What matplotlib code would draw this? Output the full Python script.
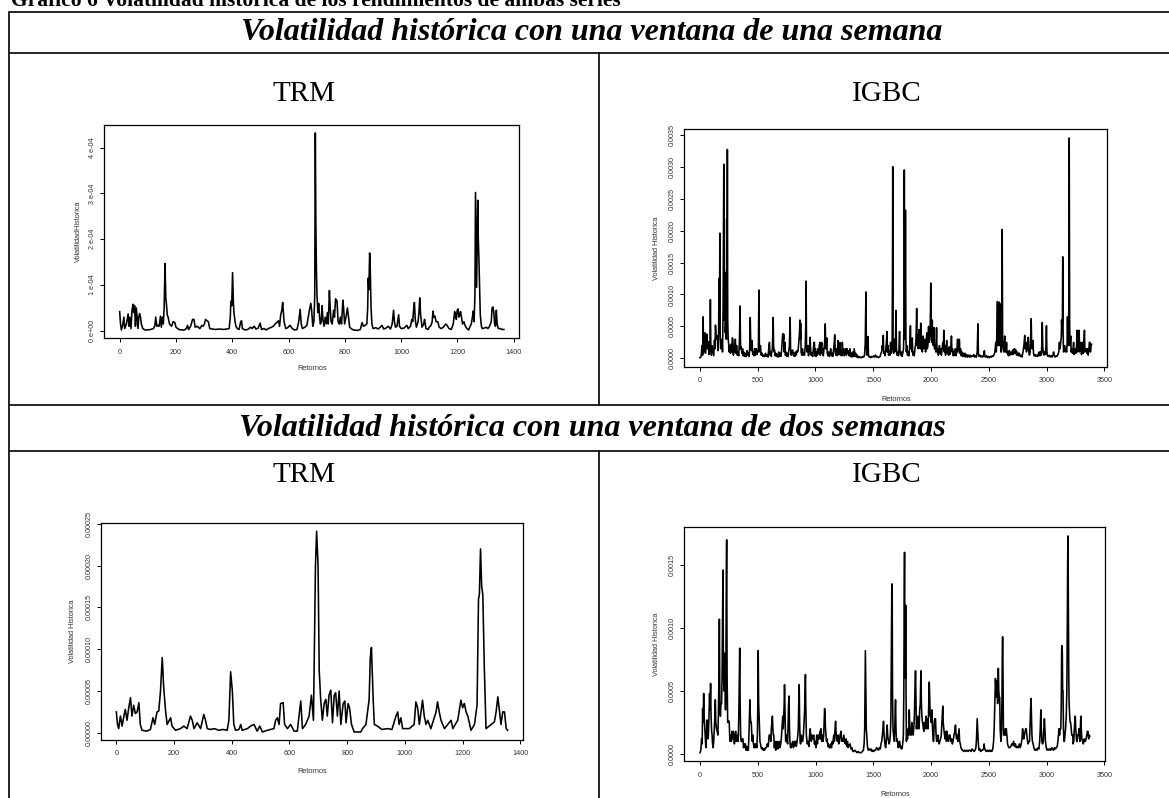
import numpy as np
import matplotlib.pyplot as plt
from matplotlib.ticker import FixedLocator, FixedFormatter

# Series (x = return index, y in units of SCALE)
SCALE_4 = 1e-4
SCALE_5 = 1e-5

# TRM, one-week window (x1e-4)
trm_1w = [(0, 0.42), (3, 0.15), (6, 0.02), (10, 0.1), (15, 0.3), (18, 0.05), (24, 0.15), (30, 0.37), (33, 0.1),
          (36, 0.3), (40, 0.05), (44, 0.45), (47, 0.58), (50, 0.4), (53, 0.55), (56, 0.1), (59, 0.5), (62, 0.3),
          (65, 0.05), (68, 0.3), (71, 0.38), (74, 0.3), (77, 0.15), (82, 0.05), (90, 0.02), (100, 0.02), (110, 0.03),
          (120, 0.05), (125, 0.12), (128, 0.3), (132, 0.1), (136, 0.12), (140, 0.1), (145, 0.32), (148, 0.08),
          (152, 0.3), (155, 0.15), (158, 0.5), (161, 1.47), (164, 0.7), (166, 0.6), (169, 0.35), (172, 0.3),
          (177, 0.15), (184, 0.1), (190, 0.2), (196, 0.18), (200, 0.08), (210, 0.03), (220, 0.02), (230, 0.02),
          (237, 0.05), (241, 0.12), (245, 0.03), (252, 0.1), (259, 0.25), (264, 0.25), (268, 0.08), (275, 0.1),
          (285, 0.05), (292, 0.12), (297, 0.1), (301, 0.15), (305, 0.25), (310, 0.22), (315, 0.2), (320, 0.05),
          (330, 0.04), (340, 0.03), (355, 0.04), (370, 0.03), (380, 0.04), (389, 0.05), (393, 0.3), (395, 0.65),
          (398, 0.55), (401, 1.27), (404, 0.6), (406, 0.4), (410, 0.2), (413, 0.1), (418, 0.05), (424, 0.03),
          (430, 0.2), (433, 0.22), (436, 0.05), (445, 0.02), (455, 0.03), (465, 0.08), (470, 0.05), (478, 0.1),
          (484, 0.04), (492, 0.06), (499, 0.17), (504, 0.03), (513, 0.05), (520, 0.02), (528, 0.05), (536, 0.07),
          (546, 0.1), (552, 0.15), (558, 0.18), (564, 0.22), (568, 0.1), (572, 0.35), (576, 0.45), (579, 0.62),
          (582, 0.35), (584, 0.2), (590, 0.05), (597, 0.07), (605, 0.12), (612, 0.06), (620, 0.02), (630, 0.03),
          (636, 0.2), (641, 0.47), (645, 0.15), (649, 0.05), (658, 0.08), (665, 0.12), (670, 0.3), (674, 0.45),
          (679, 0.6), (682, 0.45), (686, 0.1), (690, 0.2), (693, 0.8), (695, 4.32), (697, 2.3), (699, 1.3),
          (701, 0.75), (704, 0.4), (707, 0.6), (710, 0.3), (713, 0.15), (716, 0.2), (719, 0.55), (722, 0.25),
          (726, 0.1), (730, 0.3), (734, 0.15), (738, 0.4), (741, 0.15), (745, 0.88), (748, 0.5), (751, 0.2),
          (755, 0.15), (760, 0.45), (763, 0.3), (767, 0.7), (772, 0.65), (776, 0.2), (780, 0.15), (784, 0.3),
          (788, 0.15), (793, 0.67), (796, 0.45), (799, 0.15), (804, 0.3), (809, 0.5), (813, 0.3), (817, 0.08),
          (822, 0.05), (830, 0.02), (845, 0.01), (855, 0.03), (861, 0.18), (866, 0.1), (872, 0.12), (878, 0.15),
          (881, 0.5), (883, 1.15), (885, 0.9), (888, 1.7), (890, 1.4), (893, 0.5), (896, 0.15), (900, 0.05),
          (910, 0.07), (918, 0.04), (926, 0.08), (932, 0.12), (938, 0.04), (946, 0.06), (954, 0.1), (962, 0.04),
          (968, 0.15), (973, 0.45), (976, 0.2), (980, 0.08), (985, 0.1), (991, 0.35), (994, 0.1), (1000, 0.05),
          (1010, 0.06), (1020, 0.12), (1025, 0.05), (1033, 0.1), (1038, 0.25), (1041, 0.2), (1044, 0.45),
          (1047, 0.62), (1050, 0.25), (1054, 0.08), (1060, 0.2), (1063, 0.4), (1066, 0.72), (1069, 0.35),
          (1074, 0.08), (1080, 0.15), (1083, 0.25), (1088, 0.05), (1095, 0.03), (1100, 0.08), (1106, 0.12),
          (1110, 0.2), (1113, 0.43), (1116, 0.3), (1120, 0.32), (1124, 0.2), (1130, 0.2), (1135, 0.08),
          (1142, 0.05), (1150, 0.08), (1158, 0.15), (1163, 0.12), (1170, 0.05), (1178, 0.03), (1185, 0.15),
          (1190, 0.42), (1193, 0.3), (1196, 0.25), (1199, 0.45), (1202, 0.48), (1205, 0.3), (1208, 0.35),
          (1211, 0.42), (1214, 0.3), (1218, 0.15), (1223, 0.2), (1228, 0.1), (1234, 0.05), (1240, 0.02),
          (1245, 0.1), (1249, 0.15), (1253, 0.3), (1256, 0.43), (1259, 0.2), (1262, 0.8), (1264, 3.02),
          (1266, 2.0), (1268, 0.95), (1270, 2.0), (1272, 2.85), (1274, 2.0), (1276, 1.6), (1279, 0.8),
          (1281, 0.35), (1285, 0.1), (1288, 0.05), (1295, 0.06), (1302, 0.08), (1308, 0.05), (1314, 0.1),
          (1317, 0.15), (1320, 0.2), (1323, 0.5), (1326, 0.52), (1329, 0.4), (1332, 0.15), (1335, 0.1),
          (1338, 0.45), (1341, 0.15), (1345, 0.05), (1352, 0.05), (1358, 0.03), (1365, 0.03)]

# TRM, two-week window (x1e-5)
trm_2w = [(0, 2.5), (4, 1.0), (8, 0.5), (14, 2.0), (20, 0.8), (25, 1.8), (31, 2.8), (37, 1.5), (43, 3.0),
          (49, 4.2), (54, 2.0), (60, 3.3), (66, 2.3), (72, 2.5), (78, 3.6), (83, 1.0), (89, 0.3), (106, 0.2),
          (118, 0.4), (127, 1.8), (133, 1.0), (141, 2.5), (147, 2.6), (153, 5.0), (159, 9.0), (164, 5.5),
          (170, 2.8), (176, 1.0), (188, 1.8), (193, 0.8), (205, 0.3), (222, 0.5), (234, 0.8), (245, 0.5),
          (257, 2.0), (263, 1.5), (269, 0.5), (280, 1.2), (292, 0.5), (303, 2.2), (309, 1.5), (315, 0.5),
          (326, 0.4), (340, 0.5), (355, 0.3), (370, 0.4), (384, 0.3), (390, 1.5), (396, 7.3), (402, 5.0),
          (407, 1.0), (413, 0.3), (425, 0.4), (431, 1.0), (436, 0.3), (454, 0.5), (465, 0.8), (477, 1.0),
          (488, 0.2), (497, 0.8), (506, 0.1), (523, 0.3), (546, 0.5), (552, 1.5), (558, 1.8), (564, 1.0),
          (569, 3.5), (578, 3.6), (583, 1.0), (593, 0.5), (604, 1.0), (616, 0.2), (627, 0.2), (639, 3.8),
          (645, 0.5), (656, 1.0), (668, 2.0), (676, 4.5), (683, 1.5), (690, 20.0), (694, 24.1), (699, 20.0),
          (703, 7.5), (708, 4.0), (714, 1.5), (720, 3.5), (726, 4.0), (731, 2.0), (737, 4.5), (743, 5.1),
          (749, 1.2), (755, 4.5), (760, 4.8), (766, 2.0), (772, 5.0), (778, 1.0), (786, 3.5), (792, 3.8),
          (796, 1.2), (803, 3.5), (808, 3.0), (815, 1.0), (824, 0.1), (847, 0.1), (853, 0.5), (865, 1.0),
          (876, 4.0), (880, 9.0), (884, 10.2), (890, 4.0), (894, 1.0), (905, 0.8), (920, 0.4), (940, 0.5),
          (955, 0.4), (969, 2.0), (975, 2.5), (980, 1.0), (986, 1.8), (992, 0.5), (1015, 0.5), (1032, 1.0),
          (1038, 3.7), (1044, 3.0), (1050, 1.0), (1061, 3.9), (1067, 2.0), (1073, 1.0), (1079, 1.5),
          (1090, 0.5), (1108, 2.5), (1113, 3.7), (1119, 2.5), (1125, 1.5), (1137, 0.5), (1160, 1.5),
          (1166, 0.5), (1183, 1.5), (1194, 3.9), (1200, 3.0), (1206, 3.5), (1212, 2.5), (1218, 2.0),
          (1229, 0.3), (1241, 1.0), (1250, 3.3), (1255, 16.0), (1258, 16.5), (1262, 22.0), (1266, 17.5),
          (1270, 16.5), (1275, 8.0), (1281, 0.5), (1299, 1.0), (1310, 1.3), (1316, 2.5), (1322, 4.3),
          (1328, 2.5), (1333, 1.0), (1339, 2.5), (1345, 2.5), (1351, 0.5), (1356, 0.3)]

# IGBC, one-week window (x1e-4)
igbc_1w = [(0, 0.1), (10, 0.2), (19, 2.0), (24, 0.5), (28, 6.5), (32, 1.0), (38, 3.5), (44, 4.0), (48, 0.8),
           (54, 2.5), (60, 3.8), (66, 1.5), (72, 2.6), (78, 0.6), (82, 2.5), (87, 1.0), (91, 9.2), (95, 1.5),
           (100, 0.5), (106, 2.0), (113, 1.2), (120, 0.4), (126, 2.8), (131, 1.5), (135, 5.2), (140, 3.5),
           (146, 3.0), (151, 3.5), (156, 1.2), (162, 4.0), (166, 12.5), (169, 5.0), (173, 19.6), (176, 3.0),
           (180, 1.5), (185, 2.5), (191, 3.0), (196, 1.0), (201, 8.0), (207, 30.4), (211, 6.0), (216, 13.5),
           (220, 4.0), (225, 6.5), (229, 3.0), (232, 21.8), (235, 8.0), (238, 32.7), (241, 6.0), (245, 3.0),
           (248, 2.5), (253, 1.0), (258, 2.0), (264, 0.8), (270, 2.2), (276, 1.0), (281, 3.2), (285, 3.0),
           (290, 0.5), (296, 2.0), (301, 1.0), (307, 3.0), (312, 0.8), (318, 2.0), (324, 0.5), (330, 1.0),
           (336, 0.4), (342, 2.5), (348, 8.2), (352, 1.5), (357, 1.8), (364, 0.8), (370, 1.5), (375, 0.4),
           (380, 1.0), (387, 0.3), (393, 0.8), (400, 0.3), (408, 1.2), (414, 0.5), (420, 0.8), (426, 0.3),
           (431, 1.5), (436, 6.4), (440, 2.5), (445, 1.2), (452, 2.8), (457, 0.6), (463, 1.0), (469, 0.4),
           (475, 1.5), (481, 0.5), (486, 1.0), (489, 1.5), (494, 0.6), (500, 1.2), (506, 1.0), (511, 10.7),
           (515, 2.0), (520, 1.0), (524, 2.0), (530, 0.5), (538, 0.8), (545, 0.3), (552, 0.5), (560, 0.3),
           (568, 0.8), (575, 0.3), (582, 0.6), (590, 0.2), (596, 1.5), (602, 2.5), (607, 0.5), (612, 1.0),
           (618, 0.3), (622, 1.0), (627, 1.5), (630, 3.0), (634, 6.4), (638, 2.0), (642, 1.0), (646, 1.3),
           (652, 0.4), (658, 0.8), (664, 0.3), (670, 0.6), (676, 0.2), (682, 1.0), (688, 0.3), (694, 0.8),
           (700, 0.3), (706, 1.0), (712, 2.5), (716, 3.8), (720, 3.8), (723, 3.0), (725, 3.8), (729, 1.0),
           (735, 2.5), (740, 0.5), (746, 1.0), (752, 0.3), (758, 0.8), (764, 0.3), (770, 1.2), (775, 2.0),
           (778, 4.0), (781, 6.4), (785, 1.5), (790, 0.5), (796, 1.0), (803, 1.3), (810, 0.4), (816, 0.8),
           (822, 0.3), (828, 1.0), (834, 0.5), (840, 1.2), (846, 1.0), (850, 1.3), (856, 2.5), (862, 4.0),
           (866, 6.0), (870, 3.0), (872, 5.5), (876, 1.0), (882, 0.5), (888, 1.5), (894, 0.5), (900, 0.8),
           (906, 0.5), (912, 2.0), (916, 5.0), (919, 12.1), (923, 2.0), (928, 1.0), (935, 2.0), (940, 0.4),
           (946, 1.0), (950, 2.0), (954, 3.3), (958, 1.5), (963, 0.5), (970, 0.8), (976, 0.3), (982, 1.5),
           (988, 2.5), (991, 2.5), (995, 0.4), (1000, 1.5), (1006, 0.3), (1012, 1.0), (1018, 0.5), (1023, 1.5),
           (1028, 0.8), (1033, 2.0), (1038, 2.5), (1042, 0.5), (1048, 1.0), (1054, 2.5), (1058, 0.8),
           (1063, 1.5), (1068, 0.4), (1074, 1.5), (1080, 2.5), (1085, 5.4), (1089, 1.5), (1094, 2.0),
           (1098, 3.2), (1102, 0.8), (1108, 0.4), (1114, 1.0), (1120, 0.3), (1126, 0.8), (1132, 1.5),
           (1138, 0.4), (1144, 0.8), (1150, 0.3), (1155, 1.0), (1161, 2.0), (1167, 3.7), (1171, 1.0),
           (1177, 0.5), (1183, 1.5), (1189, 0.4), (1195, 2.8), (1200, 1.0), (1205, 0.6), (1211, 2.5),
           (1216, 0.5), (1222, 1.2), (1228, 0.4), (1233, 2.5), (1238, 0.8), (1244, 1.5), (1250, 0.4),
           (1256, 1.0), (1262, 1.5), (1268, 0.5), (1274, 1.5), (1280, 0.8), (1286, 1.2), (1292, 0.4),
           (1298, 1.5), (1304, 0.3), (1310, 0.8), (1316, 0.2), (1322, 1.0), (1328, 0.3), (1336, 1.5),
           (1342, 0.3), (1348, 0.8), (1355, 0.2), (1362, 0.5), (1370, 0.1), (1378, 0.3), (1386, 0.1),
           (1394, 0.2), (1402, 0.1), (1410, 0.3), (1418, 0.2), (1425, 0.5), (1431, 2.5), (1434, 6.0),
           (1437, 10.4), (1441, 2.0), (1446, 0.5), (1451, 1.5), (1455, 3.4), (1459, 0.5), (1465, 0.2),
           (1472, 0.3), (1480, 0.1), (1488, 0.3), (1496, 0.2), (1504, 0.4), (1512, 0.2), (1520, 0.5),
           (1528, 0.2), (1536, 0.3), (1544, 0.1), (1552, 0.2), (1560, 0.3), (1567, 0.8), (1573, 1.0),
           (1578, 2.0), (1583, 1.5), (1587, 3.6), (1591, 0.8), (1597, 1.0), (1603, 0.4), (1609, 1.5),
           (1614, 2.5), (1619, 4.2), (1623, 1.0), (1628, 2.0), (1633, 0.5), (1639, 1.2), (1645, 0.5),
           (1650, 2.5), (1655, 0.8), (1660, 1.0), (1664, 3.0), (1667, 15.0), (1669, 30.0), (1672, 3.0),
           (1677, 0.8), (1681, 3.0), (1686, 1.0), (1691, 1.5), (1694, 4.0), (1697, 7.5), (1701, 1.5),
           (1706, 0.5), (1712, 1.0), (1718, 0.4), (1723, 1.5), (1728, 4.2), (1732, 1.0), (1738, 0.5),
           (1744, 1.0), (1750, 0.3), (1756, 0.8), (1762, 1.5), (1766, 5.0), (1769, 29.5), (1773, 3.0),
           (1776, 8.0), (1779, 23.2), (1783, 3.0), (1787, 1.0), (1791, 2.0), (1796, 0.5), (1802, 1.0),
           (1808, 0.4), (1814, 1.5), (1818, 3.0), (1822, 5.1), (1826, 1.5), (1830, 2.5), (1835, 1.0),
           (1838, 3.2), (1843, 0.5), (1849, 1.0), (1855, 0.4), (1861, 1.5), (1866, 2.0), (1870, 3.0),
           (1873, 5.0), (1876, 7.8), (1880, 2.0), (1885, 3.5), (1890, 1.5), (1895, 4.5), (1899, 2.0),
           (1904, 3.0), (1908, 1.5), (1911, 5.5), (1915, 1.5), (1920, 2.5), (1925, 1.0), (1932, 3.5),
           (1937, 1.5), (1942, 2.5), (1948, 3.0), (1953, 1.0), (1958, 2.5), (1964, 4.0), (1968, 1.5),
           (1973, 2.0), (1979, 5.0), (1983, 2.5), (1988, 3.0), (1992, 4.5), (1995, 7.0), (1998, 11.8),
           (2002, 4.0), (2006, 2.5), (2011, 6.0), (2015, 3.0), (2020, 2.0), (2026, 4.8), (2030, 1.5),
           (2036, 2.0), (2042, 1.0), (2048, 4.8), (2052, 1.0), (2058, 1.5), (2064, 0.5), (2073, 2.0),
           (2078, 0.8), (2084, 1.5), (2090, 0.5), (2096, 1.5), (2102, 2.5), (2107, 1.5), (2111, 4.4),
           (2115, 1.0), (2120, 2.0), (2126, 0.5), (2131, 1.5), (2136, 2.8), (2140, 0.8), (2146, 1.5),
           (2152, 0.5), (2158, 1.8), (2163, 0.6), (2168, 1.2), (2173, 2.0), (2177, 3.5), (2181, 1.0),
           (2187, 1.5), (2193, 0.4), (2199, 1.0), (2205, 0.5), (2211, 1.5), (2217, 0.4), (2224, 1.2),
           (2230, 3.0), (2234, 1.0), (2240, 2.0), (2246, 3.0), (2250, 0.8), (2256, 1.5), (2262, 0.4),
           (2268, 1.0), (2274, 0.3), (2280, 0.8), (2287, 0.3), (2294, 0.8), (2300, 0.2), (2308, 0.6),
           (2315, 0.2), (2322, 0.5), (2330, 0.2), (2338, 0.5), (2346, 0.2), (2354, 0.4), (2362, 0.3),
           (2370, 0.6), (2378, 0.2), (2386, 0.4), (2393, 0.2), (2400, 1.0), (2403, 3.0), (2406, 5.4),
           (2410, 0.8), (2416, 0.3), (2424, 0.5), (2432, 0.2), (2440, 0.4), (2448, 0.2), (2456, 0.5),
           (2462, 1.2), (2466, 0.3), (2474, 0.2), (2482, 0.4), (2490, 0.1), (2498, 0.3), (2506, 0.1),
           (2514, 0.3), (2522, 0.2), (2530, 0.4), (2538, 0.3), (2546, 0.6), (2553, 1.0), (2560, 2.5),
           (2565, 1.0), (2570, 4.0), (2575, 8.9), (2579, 2.0), (2584, 4.0), (2588, 2.0), (2591, 8.8),
           (2595, 3.0), (2600, 8.5), (2604, 1.0), (2608, 1.0), (2612, 3.0), (2616, 20.2), (2620, 3.0),
           (2625, 1.5), (2630, 1.0), (2638, 3.5), (2642, 1.0), (2648, 1.0), (2654, 2.5), (2658, 0.8),
           (2664, 1.0), (2670, 0.4), (2676, 1.2), (2682, 0.5), (2690, 1.0), (2698, 0.6), (2706, 1.3),
           (2712, 0.6), (2720, 1.5), (2726, 0.8), (2732, 1.4), (2740, 0.5), (2748, 1.0), (2756, 0.4),
           (2764, 0.8), (2772, 0.3), (2780, 0.5), (2788, 0.2), (2796, 1.0), (2804, 2.0), (2811, 3.6),
           (2815, 1.5), (2820, 2.5), (2826, 1.0), (2832, 1.5), (2836, 2.5), (2842, 3.3), (2846, 1.0),
           (2852, 0.5), (2858, 1.0), (2862, 3.0), (2867, 6.2), (2871, 2.0), (2876, 1.5), (2883, 2.8),
           (2887, 0.8), (2893, 0.4), (2900, 0.6), (2908, 0.3), (2916, 0.5), (2924, 0.3), (2930, 0.8),
           (2936, 1.0), (2942, 0.4), (2948, 1.0), (2954, 0.5), (2960, 2.5), (2963, 5.6), (2967, 2.0),
           (2972, 0.8), (2978, 0.5), (2984, 1.0), (2990, 0.6), (2995, 2.0), (2999, 5.1), (3003, 1.0),
           (3008, 0.4), (3016, 0.3), (3024, 0.5), (3032, 0.2), (3040, 0.4), (3048, 0.2), (3056, 0.6),
           (3061, 1.0), (3066, 0.4), (3074, 0.2), (3082, 0.4), (3090, 0.3), (3098, 0.6), (3106, 1.0),
           (3111, 2.5), (3115, 1.5), (3120, 2.0), (3125, 3.0), (3128, 3.5), (3130, 6.0), (3134, 4.0),
           (3137, 6.0), (3140, 15.9), (3143, 4.0), (3147, 1.0), (3152, 1.5), (3156, 2.0), (3162, 1.0),
           (3168, 1.5), (3174, 1.0), (3178, 2.5), (3181, 6.5), (3185, 2.0), (3190, 3.0), (3193, 10.0),
           (3196, 34.5), (3200, 5.0), (3204, 2.0), (3209, 3.5), (3213, 1.0), (3218, 1.5), (3224, 0.8),
           (3230, 1.5), (3234, 2.5), (3238, 0.6), (3244, 1.0), (3250, 1.5), (3255, 0.8), (3260, 2.0),
           (3265, 4.4), (3269, 1.0), (3274, 2.5), (3278, 3.5), (3282, 4.4), (3286, 1.0), (3292, 1.5),
           (3297, 2.5), (3302, 0.6), (3308, 1.2), (3313, 2.5), (3318, 0.8), (3323, 2.5), (3328, 4.4),
           (3332, 1.0), (3338, 1.5), (3344, 1.5), (3350, 0.8), (3355, 1.5), (3360, 0.5), (3366, 1.2),
           (3370, 2.5), (3375, 2.5), (3380, 1.0), (3385, 2.0), (3390, 2.2)]

# IGBC, two-week window (x1e-4)
igbc_2w = [(0, 0.1), (6, 0.3), (13, 1.2), (18, 0.8), (22, 3.6), (26, 2.5), (31, 4.8), (35, 3.0), (41, 2.0),
           (46, 1.2), (50, 0.5), (55, 1.5), (60, 2.7), (66, 1.2), (72, 1.5), (77, 3.0), (82, 4.8), (86, 3.5),
           (91, 5.6), (95, 3.0), (100, 1.8), (104, 1.5), (108, 0.8), (113, 0.5), (118, 1.0), (124, 2.2),
           (128, 3.0), (132, 4.3), (136, 2.5), (142, 2.0), (148, 1.8), (154, 1.5), (158, 3.0), (163, 6.0),
           (167, 10.7), (171, 4.0), (176, 3.0), (181, 4.0), (186, 4.0), (190, 6.0), (194, 10.0), (198, 14.6),
           (202, 7.0), (206, 5.0), (210, 6.0), (214, 8.0), (218, 5.0), (220, 3.5), (224, 8.0), (227, 14.0),
           (230, 17.0), (234, 6.0), (239, 2.5), (245, 2.6), (252, 2.6), (256, 1.5), (261, 1.0), (266, 1.5),
           (271, 1.0), (277, 1.8), (282, 1.2), (287, 1.8), (292, 1.5), (297, 0.8), (303, 1.5), (308, 1.8),
           (314, 1.0), (319, 1.2), (324, 1.5), (330, 1.0), (335, 3.0), (339, 6.0), (343, 8.4), (347, 4.0),
           (351, 1.5), (355, 1.0), (361, 1.0), (366, 1.2), (371, 1.2), (376, 0.5), (382, 0.8), (387, 0.5),
           (392, 0.8), (398, 0.3), (404, 0.6), (410, 0.3), (418, 0.3), (423, 1.5), (427, 3.0), (431, 4.3),
           (435, 3.0), (439, 2.5), (443, 2.5), (448, 1.5), (452, 1.0), (456, 1.5), (462, 0.8), (468, 0.5),
           (475, 0.8), (480, 0.5), (486, 0.8), (491, 0.5), (496, 1.5), (500, 4.0), (503, 8.2), (507, 4.0),
           (513, 2.5), (518, 1.0), (523, 0.8), (528, 0.5), (534, 0.4), (540, 0.5), (546, 0.3), (552, 0.4),
           (559, 0.3), (566, 0.5), (575, 0.5), (582, 0.8), (590, 0.6), (598, 1.5), (607, 1.5), (612, 1.0),
           (617, 2.0), (622, 2.6), (626, 3.0), (630, 2.0), (634, 1.5), (638, 1.5), (643, 0.5), (648, 1.0),
           (654, 0.3), (660, 0.5), (666, 1.0), (672, 0.4), (679, 0.8), (686, 1.0), (692, 0.5), (698, 0.8),
           (703, 1.2), (708, 2.0), (712, 2.5), (716, 3.0), (720, 2.0), (724, 3.0), (728, 4.0), (731, 5.5),
           (734, 4.0), (738, 2.0), (741, 1.0), (745, 1.0), (750, 1.5), (754, 1.0), (758, 0.8), (762, 2.5),
           (766, 4.0), (770, 4.6), (774, 2.0), (778, 1.0), (783, 0.5), (789, 0.5), (795, 0.8), (802, 1.0),
           (808, 0.5), (815, 0.7), (820, 1.0), (827, 1.0), (833, 0.6), (840, 1.0), (846, 1.5), (850, 2.0),
           (854, 4.0), (858, 5.5), (862, 2.5), (866, 1.0), (870, 0.8), (876, 1.5), (882, 1.0), (888, 1.0),
           (894, 1.5), (900, 2.5), (905, 3.5), (909, 5.0), (912, 6.3), (915, 4.0), (920, 1.5), (928, 0.8),
           (935, 1.0), (942, 0.6), (948, 1.5), (953, 2.0), (958, 1.5), (963, 1.0), (968, 1.5), (975, 1.2),
           (984, 1.5), (990, 0.8), (996, 1.0), (1002, 0.5), (1010, 1.5), (1016, 0.8), (1022, 1.5), (1030, 1.2),
           (1037, 1.8), (1042, 1.2), (1047, 2.0), (1053, 1.0), (1059, 1.5), (1065, 1.0), (1070, 1.5),
           (1074, 2.5), (1078, 3.6), (1082, 3.0), (1086, 2.0), (1090, 1.5), (1094, 1.0), (1100, 1.2),
           (1106, 0.6), (1112, 0.8), (1118, 0.5), (1126, 0.5), (1132, 0.8), (1138, 0.5), (1144, 1.0),
           (1150, 0.8), (1157, 1.5), (1163, 1.0), (1168, 2.0), (1173, 2.6), (1177, 1.8), (1182, 1.2),
           (1189, 1.0), (1195, 1.5), (1200, 0.8), (1206, 1.0), (1212, 1.5), (1220, 1.8), (1226, 1.0),
           (1232, 1.2), (1238, 1.0), (1244, 1.5), (1252, 1.0), (1258, 0.8), (1264, 1.2), (1270, 0.6),
           (1276, 1.0), (1282, 0.5), (1290, 0.7), (1299, 0.8), (1306, 0.4), (1314, 0.5), (1322, 0.2),
           (1330, 0.2), (1340, 0.3), (1350, 0.2), (1360, 0.1), (1370, 0.2), (1380, 0.1), (1393, 0.1),
           (1405, 0.2), (1414, 0.3), (1420, 0.8), (1425, 2.0), (1428, 5.0), (1431, 8.2), (1435, 5.0),
           (1439, 2.0), (1443, 1.5), (1449, 0.6), (1456, 0.3), (1464, 0.4), (1472, 0.3), (1480, 0.4),
           (1488, 0.2), (1496, 0.3), (1504, 0.2), (1512, 0.3), (1519, 0.3), (1528, 0.5), (1536, 0.4),
           (1544, 0.3), (1552, 0.5), (1560, 0.4), (1566, 0.8), (1572, 1.0), (1578, 1.5), (1583, 2.0),
           (1588, 2.6), (1593, 1.5), (1598, 1.0), (1603, 0.6), (1607, 0.5), (1612, 1.0), (1616, 1.8),
           (1619, 2.3), (1624, 1.5), (1628, 1.2), (1632, 1.0), (1637, 0.8), (1642, 1.0), (1647, 1.5),
           (1652, 3.0), (1656, 8.0), (1660, 13.5), (1663, 13.4), (1666, 5.0), (1670, 2.0), (1675, 1.5),
           (1680, 1.0), (1685, 2.0), (1689, 3.5), (1692, 4.3), (1696, 2.0), (1700, 1.0), (1705, 1.2),
           (1710, 1.0), (1715, 0.5), (1721, 0.8), (1727, 1.0), (1733, 0.5), (1739, 0.6), (1745, 0.4),
           (1750, 0.5), (1756, 1.0), (1760, 1.5), (1764, 5.0), (1767, 12.0), (1770, 16.0), (1773, 8.0),
           (1777, 6.0), (1780, 11.8), (1783, 5.0), (1786, 1.0), (1791, 1.5), (1796, 1.2), (1801, 2.0),
           (1806, 1.5), (1811, 3.5), (1816, 2.0), (1822, 1.5), (1827, 1.5), (1833, 2.5), (1838, 2.0),
           (1844, 1.5), (1850, 2.0), (1855, 3.0), (1860, 5.0), (1865, 6.6), (1869, 4.0), (1873, 2.0),
           (1877, 2.5), (1881, 2.0), (1886, 3.0), (1891, 2.5), (1896, 2.0), (1901, 3.5), (1906, 4.0),
           (1910, 5.5), (1912, 6.6), (1916, 4.0), (1920, 3.0), (1925, 2.5), (1928, 2.5), (1933, 2.0),
           (1938, 1.8), (1943, 2.5), (1948, 2.0), (1952, 2.5), (1956, 3.0), (1960, 2.0), (1965, 2.5),
           (1969, 2.8), (1973, 2.0), (1977, 3.0), (1981, 4.5), (1984, 5.7), (1988, 4.5), (1992, 3.0),
           (1997, 3.0), (2001, 2.5), (2006, 3.5), (2010, 2.5), (2015, 1.5), (2019, 1.0), (2022, 1.0),
           (2027, 2.5), (2032, 2.8), (2038, 2.8), (2043, 1.5), (2048, 1.0), (2053, 1.0), (2058, 1.5),
           (2064, 1.0), (2070, 0.8), (2076, 1.0), (2082, 1.2), (2088, 1.5), (2094, 2.5), (2098, 3.2),
           (2101, 3.8), (2105, 2.5), (2110, 2.0), (2116, 1.5), (2122, 1.2), (2128, 1.8), (2133, 1.0),
           (2138, 1.8), (2144, 1.2), (2150, 1.0), (2157, 1.5), (2164, 1.5), (2170, 1.0), (2177, 1.2),
           (2184, 0.8), (2190, 1.0), (2198, 1.5), (2205, 1.8), (2211, 2.3), (2216, 1.5), (2221, 1.2),
           (2226, 1.5), (2232, 1.0), (2237, 1.5), (2242, 2.0), (2247, 1.0), (2253, 0.8), (2258, 0.5),
           (2264, 0.4), (2270, 0.3), (2274, 0.3), (2282, 0.2), (2292, 0.3), (2300, 0.2), (2310, 0.3),
           (2320, 0.2), (2328, 0.3), (2336, 0.3), (2346, 0.2), (2355, 0.4), (2364, 0.3), (2372, 0.2),
           (2380, 0.3), (2388, 0.5), (2393, 1.2), (2396, 2.0), (2399, 2.8), (2403, 2.0), (2408, 1.0),
           (2412, 0.5), (2415, 0.3), (2422, 0.4), (2430, 0.2), (2438, 0.3), (2446, 0.3), (2454, 0.4),
           (2459, 0.8), (2462, 0.5), (2470, 0.3), (2478, 0.2), (2486, 0.3), (2494, 0.2), (2502, 0.3),
           (2510, 0.2), (2518, 0.3), (2526, 0.2), (2534, 0.4), (2541, 1.0), (2546, 2.0), (2550, 3.5),
           (2554, 5.0), (2557, 6.0), (2562, 5.0), (2566, 4.5), (2569, 5.8), (2572, 5.8), (2576, 4.0),
           (2580, 5.5), (2582, 6.8), (2586, 5.0), (2590, 4.5), (2594, 4.5), (2598, 2.0), (2604, 1.0),
           (2609, 1.5), (2613, 4.0), (2616, 7.5), (2619, 9.3), (2623, 6.0), (2626, 2.0), (2629, 1.5),
           (2636, 1.5), (2642, 2.0), (2647, 1.5), (2651, 2.0), (2656, 1.5), (2662, 0.8), (2668, 0.6),
           (2675, 0.5), (2682, 0.5), (2690, 0.6), (2698, 0.8), (2706, 0.7), (2714, 1.0), (2722, 0.6),
           (2730, 0.8), (2738, 0.5), (2746, 0.6), (2755, 0.5), (2764, 0.8), (2772, 0.5), (2780, 0.8),
           (2787, 1.2), (2792, 2.0), (2797, 1.5), (2802, 1.2), (2808, 1.5), (2814, 1.8), (2819, 2.0),
           (2824, 2.0), (2829, 1.5), (2835, 1.0), (2840, 0.8), (2846, 1.0), (2852, 1.0), (2857, 2.5),
           (2861, 3.5), (2865, 4.4), (2869, 3.0), (2873, 1.5), (2877, 1.0), (2883, 0.8), (2890, 0.5),
           (2897, 0.3), (2903, 0.3), (2910, 0.4), (2918, 0.3), (2926, 0.5), (2933, 0.4), (2940, 1.0),
           (2945, 2.0), (2948, 3.0), (2950, 3.5), (2954, 2.0), (2959, 1.0), (2965, 0.8), (2971, 1.0),
           (2976, 2.0), (2981, 2.8), (2985, 2.0), (2990, 1.0), (2997, 0.5), (3004, 0.3), (3012, 0.4),
           (3020, 0.3), (3028, 0.4), (3036, 0.3), (3044, 0.5), (3052, 0.4), (3060, 0.3), (3068, 0.5),
           (3076, 0.4), (3084, 0.5), (3092, 0.6), (3100, 1.2), (3107, 2.0), (3112, 1.5), (3117, 2.0),
           (3123, 2.0), (3127, 4.0), (3130, 8.0), (3132, 8.6), (3136, 8.0), (3139, 5.0), (3142, 5.0),
           (3146, 2.0), (3150, 1.0), (3154, 1.0), (3159, 1.5), (3164, 2.0), (3170, 3.0), (3175, 5.0),
           (3179, 10.0), (3182, 15.0), (3185, 17.3), (3189, 10.0), (3192, 6.0), (3195, 4.0), (3200, 3.0),
           (3204, 2.5), (3208, 2.5), (3213, 2.0), (3218, 1.5), (3222, 1.5), (3226, 1.5), (3230, 0.8),
           (3235, 1.0), (3240, 2.0), (3244, 2.5), (3248, 3.0), (3252, 2.0), (3256, 1.5), (3260, 1.0),
           (3264, 1.0), (3270, 1.5), (3275, 1.5), (3280, 2.0), (3284, 1.5), (3288, 1.0), (3292, 2.0),
           (3296, 3.0), (3300, 2.0), (3305, 1.2), (3311, 1.0), (3318, 0.8), (3325, 1.2), (3330, 1.0),
           (3336, 1.0), (3342, 1.2), (3348, 1.5), (3353, 1.8), (3358, 1.8), (3364, 1.2), (3370, 1.5),
           (3374, 1.4)]

# Tick values and labels
trm_1w_yticks = [0, 1e-4, 2e-4, 3e-4, 4e-4]
trm_1w_ylabels = ["0 e+00", "1 e-04", "2 e-04", "3 e-04", "4 e-04"]
igbc_1w_yticks = [0, 0.0005, 0.0010, 0.0015, 0.0020, 0.0025, 0.0030, 0.0035]
trm_2w_yticks = [0, 0.00005, 0.00010, 0.00015, 0.00020, 0.00025]
igbc_2w_yticks = [0, 0.0005, 0.0010, 0.0015]
trm_xticks = [0, 200, 400, 600, 800, 1000, 1200, 1400]
igbc_xticks = [0, 500, 1000, 1500, 2000, 2500, 3000, 3500]

header_1 = "Volatilidad histórica con una ventana de una semana"
header_2 = "Volatilidad histórica con una ventana de dos semanas"
caption = "Gráfico 6 Volatilidad histórica de los rendimientos de ambas series"

W, H = 1169, 798
SERIF = "Liberation Serif"
SANS = "Liberation Sans"

fig = plt.figure(figsize=(W / 100, H / 100), dpi=100)

# Page layer in pixel coordinates (y down) for the table and its text
page = fig.add_axes([0, 0, 1, 1])
page.set_xlim(0, W)
page.set_ylim(H, 0)
page.axis('off')

lw = 1.2
y_top, y_h1, y_h2a, y_h2b = 12, 53, 405, 451
x_left, x_mid = 9, 599
for y in (y_top, y_h1, y_h2a, y_h2b):
    page.plot([x_left, W + 5], [y, y], color='black', lw=lw, solid_capstyle='butt')
page.plot([x_left, x_left], [y_top, H + 5], color='black', lw=lw)
page.plot([x_mid, x_mid], [y_h1, y_h2a], color='black', lw=lw)
page.plot([x_mid, x_mid], [y_h2b, H + 5], color='black', lw=lw)

page.text(11, 6, caption, family=SERIF, weight='bold', fontsize=15.5, va='baseline', ha='left')
page.text(592, 32, header_1, family=SERIF, weight='bold', style='italic', fontsize=23, ha='center', va='center')
page.text(592, 428, header_2, family=SERIF, weight='bold', style='italic', fontsize=23, ha='center', va='center')
for (cx, cy, name) in [(304, 101, "TRM"), (887, 101, "IGBC"), (304, 482, "TRM"), (887, 482, "IGBC")]:
    page.text(cx, cy, name, family=SERIF, fontsize=21, ha='center', va='baseline')


def panel(box, pts, scale, yticks, ylabels, xticks, ylab, ylab_x, xlab_y):
    l, t, r, b = box
    ax = fig.add_axes([l / W, 1 - b / H, (r - l) / W, (b - t) / H])
    arr = np.array(pts, dtype=float)
    ax.plot(arr[:, 0], arr[:, 1] * scale, color='black', lw=1.15)
    ax.margins(x=0.04, y=0.04)
    ax.yaxis.set_major_locator(FixedLocator(yticks))
    ax.yaxis.set_major_formatter(FixedFormatter(ylabels))
    ax.xaxis.set_major_locator(FixedLocator(xticks))
    ax.xaxis.set_major_formatter(FixedFormatter([str(v) for v in xticks]))
    ax.tick_params(direction='out', length=3, width=0.7, labelsize=5.2, labelcolor='#333333', colors='black')
    ax.tick_params(axis='x', pad=4.5)
    ax.tick_params(axis='y', pad=3)
    for lab in ax.get_yticklabels():
        lab.set_rotation(90)
        lab.set_va('center')
        lab.set_family(SANS)
    for lab in ax.get_xticklabels():
        lab.set_family(SANS)
    for s in ax.spines.values():
        s.set_linewidth(0.9)
    page.text((l + r) / 2, xlab_y, "Retornos", family=SANS, fontsize=5.3, color='#333333',
              ha='center', va='center')
    page.text(ylab_x, (t + b) / 2, ylab, family=SANS, fontsize=5.3, color='#333333',
              ha='center', va='center', rotation=90)
    return ax


panel((104.3, 125, 519.3, 338.3), trm_1w, SCALE_4, trm_1w_yticks, trm_1w_ylabels, trm_xticks,
      "VolatilidadHistorica", 78, 368)
panel((684.2, 129.2, 1107.3, 366.5), igbc_1w, SCALE_4, igbc_1w_yticks,
      ["%.4f" % v for v in igbc_1w_yticks], igbc_xticks, "Volatilidad Historica", 656, 399.5)
panel((100.7, 523.3, 523.3, 740), trm_2w, SCALE_5, trm_2w_yticks,
      ["%.5f" % v for v in trm_2w_yticks], trm_xticks, "Volatilidad Historica", 73, 771.7)
panel((684.5, 527.3, 1105.4, 761.4), igbc_2w, SCALE_4, igbc_2w_yticks,
      ["%.4f" % v for v in igbc_2w_yticks], igbc_xticks, "Volatilidad Historica", 657, 794.7)

fig.savefig("out.png", dpi=100)
